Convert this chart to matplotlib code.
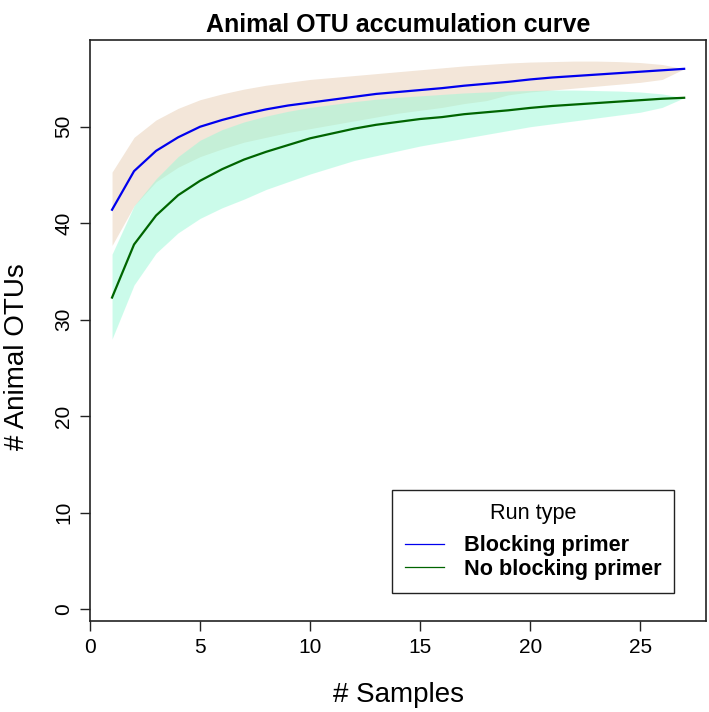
import numpy as np
import matplotlib
matplotlib.use("Agg")
import matplotlib.pyplot as plt
from matplotlib.lines import Line2D

plt.rcParams["font.family"] = ["Liberation Sans", "DejaVu Sans"]

# %% DATA
samples = list(range(1, 28))

blocking_mean = [41.4, 45.4, 47.5, 48.9, 50.0, 50.7, 51.3, 51.8, 52.2, 52.5,
                 52.8, 53.1, 53.4, 53.6, 53.8, 54.0, 54.25, 54.45, 54.65,
                 54.9, 55.1, 55.25, 55.4, 55.55, 55.7, 55.85, 56.0]
blocking_upper = [45.3, 48.9, 50.7, 51.9, 52.8, 53.4, 53.9, 54.3, 54.6, 54.9,
                  55.1, 55.3, 55.5, 55.7, 55.9, 56.1, 56.3, 56.45, 56.6,
                  56.7, 56.75, 56.8, 56.8, 56.75, 56.65, 56.45, 56.0]
blocking_lower = [37.7, 41.8, 44.3, 45.8, 46.9, 47.7, 48.4, 48.9, 49.4, 49.8,
                  50.2, 50.6, 51.0, 51.4, 51.7, 52.0, 52.4, 52.7, 53.3,
                  53.6, 53.8, 54.0, 54.2, 54.4, 54.6, 54.9, 56.0]

noblock_mean = [32.3, 37.8, 40.8, 42.9, 44.4, 45.6, 46.6, 47.4, 48.1, 48.8,
                49.3, 49.8, 50.2, 50.5, 50.8, 51.0, 51.3, 51.5, 51.7,
                51.95, 52.15, 52.3, 52.45, 52.6, 52.75, 52.9, 53.0]
noblock_upper = [36.8, 41.8, 44.6, 46.9, 48.6, 49.7, 50.5, 51.1, 51.6, 52.0,
                 52.3, 52.6, 52.85, 53.05, 53.2, 53.35, 53.5, 53.6, 53.7,
                 53.75, 53.8, 53.8, 53.75, 53.7, 53.6, 53.4, 53.0]
noblock_lower = [28.0, 33.6, 36.9, 39.0, 40.5, 41.6, 42.5, 43.5, 44.3, 45.1,
                 45.8, 46.5, 47.0, 47.5, 48.0, 48.4, 48.8, 49.2, 49.6,
                 50.0, 50.3, 50.6, 50.9, 51.2, 51.5, 52.0, 53.0]

run_types = ["Blocking primer", "No blocking primer"]
x_ticks = [0, 5, 10, 15, 20, 25]
y_ticks = [0, 10, 20, 30, 40, 50]

# %% PLOTTING
fig = plt.figure(figsize=(7.09, 7.12), dpi=100)
ax = fig.add_axes([0.127, 0.128, 0.869, 0.816])

ax.fill_between(samples, blocking_lower, blocking_upper,
                color="#F3E6D9", lw=0)
ax.fill_between(samples, noblock_lower, noblock_upper,
                color="#99F9D7", alpha=0.5, lw=0)
ax.plot(samples, blocking_mean, color="#0000EE", lw=1.6)
ax.plot(samples, noblock_mean, color="#006400", lw=1.6)

ax.set_xlim(0, 28)
ax.set_ylim(-1.2, 59)
ax.set_xticks(x_ticks)
ax.set_yticks(y_ticks)
ax.tick_params(axis="both", direction="out", length=7, width=1,
               labelsize=15, color="#222222", pad=5)
for lab in ax.get_yticklabels():
    lab.set_rotation(90)
    lab.set_va("center")
for s in ax.spines.values():
    s.set_color("#222222")
    s.set_linewidth(1.2)

ax.set_title("Animal OTU accumulation curve", fontsize=18,
             fontweight="bold", pad=6)
ax.set_xlabel("# Samples", fontsize=20, labelpad=18)
ax.set_ylabel("# Animal OTUs", fontsize=20)
ax.yaxis.set_label_coords(-0.097, 0.454)

handles = [Line2D([], [], color="#0000EE", lw=0.9),
           Line2D([], [], color="#006400", lw=0.9)]
leg = ax.legend(handles, run_types, title="Run type",
                loc="lower right", bbox_to_anchor=(0.948, 0.0487),
                borderaxespad=0, fancybox=False, framealpha=1,
                edgecolor="#222222", handlelength=1.8, handletextpad=0.9,
                labelspacing=0.1, borderpad=0.6,
                prop={"size": 15.6, "weight": "bold"},
                title_fontproperties={"size": 15.6})
leg.get_frame().set_linewidth(1.0)
# more room between the legend title and its entries
leg._legend_box.sep = 8

plt.savefig("out.png", dpi=100)
